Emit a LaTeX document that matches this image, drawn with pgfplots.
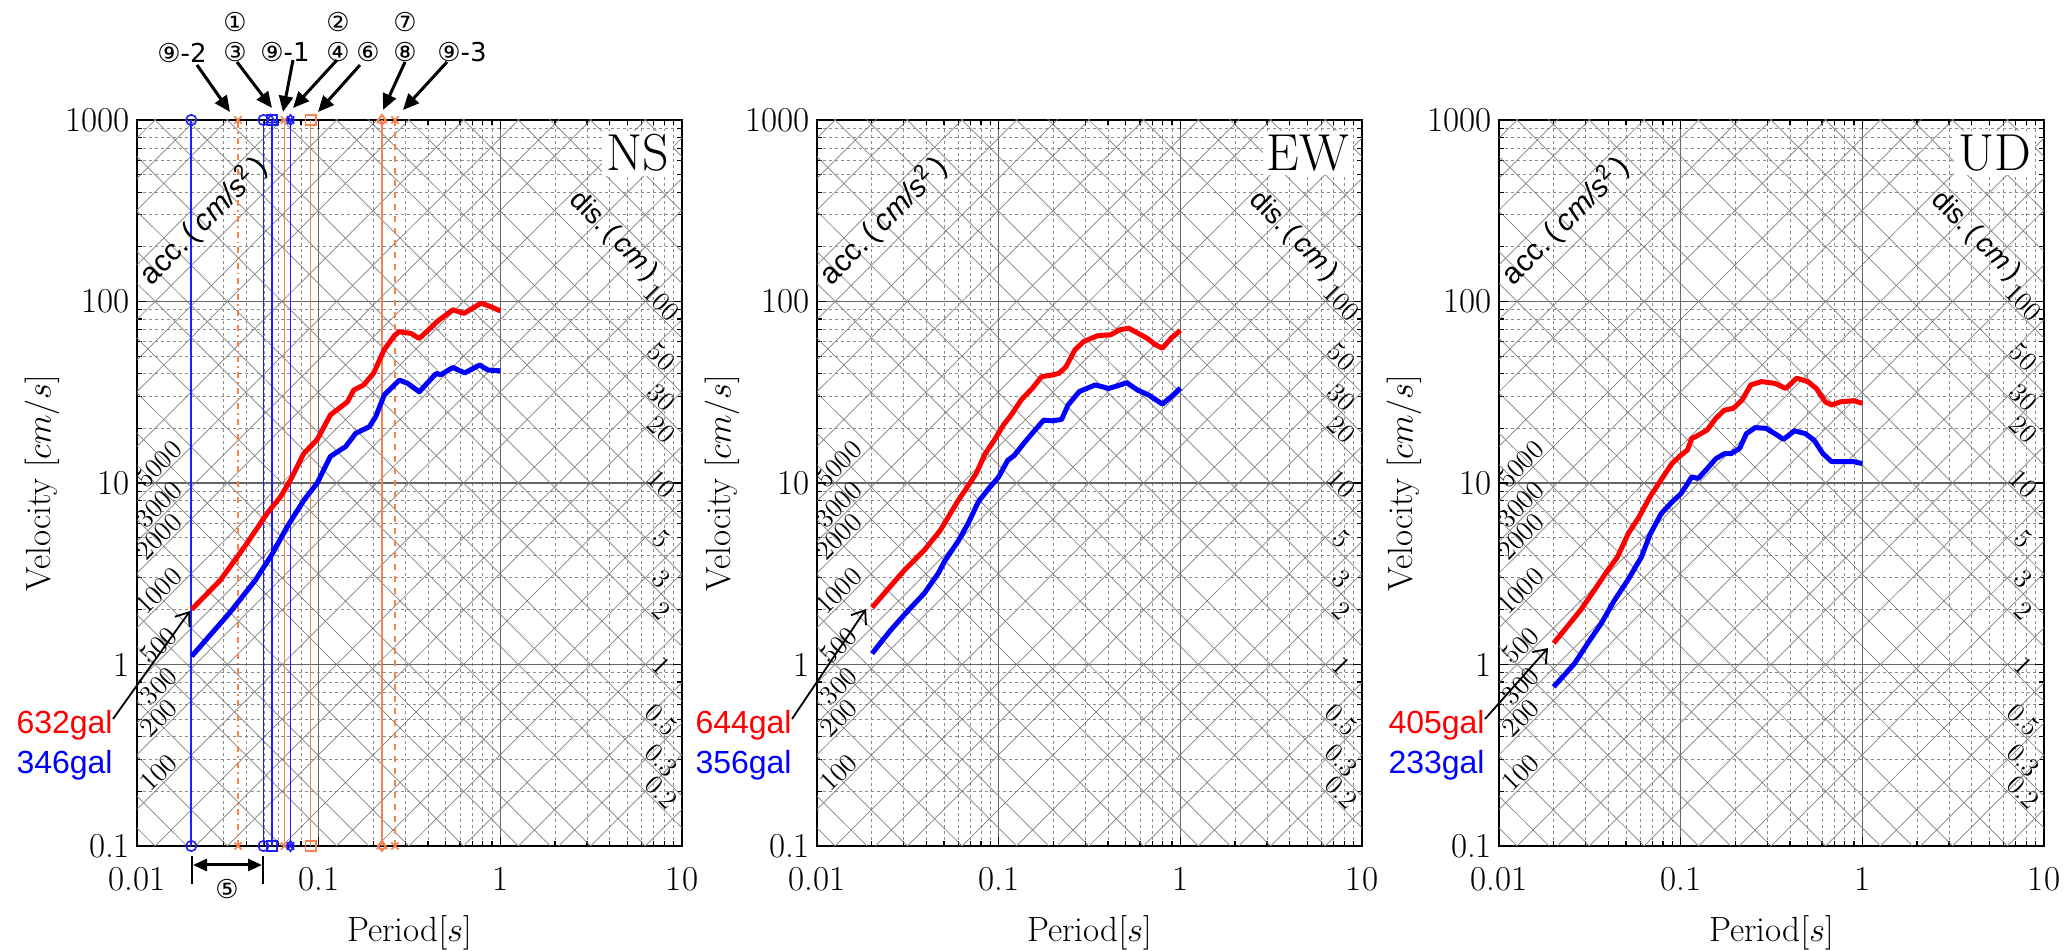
\documentclass[border=0pt]{standalone}
\usepackage{pgfplots}
\pgfplotsset{compat=1.18}
\usepackage{fontspec}
\usetikzlibrary{arrows.meta}
\newfontfamily\arial{Liberation Sans}
\newfontfamily\dejavu{DejaVu Sans}
\definecolor{spred}{RGB}{255,0,0}
\definecolor{spblue}{RGB}{0,0,255}
\definecolor{mkblue}{RGB}{30,30,255}
\definecolor{mkorange}{RGB}{245,130,80}

\pgfplotsset{
  every axis/.append style={
    scale only axis, width=272.5pt, height=363pt,
    xmin=0.01, xmax=10, ymin=0.1, ymax=1000,
    xtick={0.01,0.1,1,10}, xticklabels={0.01,0.1,1,10},
    ytick={0.1,1,10,100,1000}, yticklabels={0.1,1,10,100,1000},
    tick label style={font=\fontsize{17.5}{20}\selectfont},
    x tick label style={yshift=-7pt},
    tick align=inside, major tick length=4.5pt, minor tick length=2.5pt,
    tick style={black, line width=0.6pt},
    axis line style={line width=1pt},
    grid=both,
    major grid style={black!60, line width=0.6pt},
    minor grid style={black!45, line width=0.4pt, dash pattern=on 1.5pt off 1.5pt},
    xlabel={Period$[s]$}, ylabel={Velocity $[cm/s]$},
    label style={font=\fontsize{17.5}{20}\selectfont},
    xlabel style={at={(axis description cs:0.5,-0.1198)}, anchor=center},
    ylabel style={at={(axis description cs:-0.1743,0.5)}, anchor=center},
  },
  diagline/.style={black!50, line width=0.35pt, no markers, forget plot},
  spcurve/.style={line width=2.5pt, line join=round, no markers},
  vmark/.style={line width=0.8pt, mark size=2.6pt, mark options={solid}},
}

% tripartite grid: acceleration (slope +1) and displacement (slope -1) lines
\newcommand{\tripgrid}{%
  \pgfplotsinvokeforeach{0.1,0.2,0.3,0.5,1,2,3,5,10,20,30,50,100,200,300,500,1000,2000,3000,5000,10000,20000,30000,50000,100000,200000,300000,500000}{%
    \addplot[diagline] coordinates {(0.0062832,##1e-3) (62.832,##1e1)};}%
  \pgfplotsinvokeforeach{0.0002,0.0003,0.0005,0.001,0.002,0.003,0.005,0.01,0.02,0.03,0.05,0.1,0.2,0.3,0.5,1,2,3,5,10,20,30,50,100,200,300,500,1000}{%
    \addplot[diagline] coordinates {(0.0062832,##1e3) (62.832,##1e-1)};}%
}
\newcommand{\dlab}{\fontsize{13.5}{14}\selectfont}
\newcommand{\triplabels}{%
  \node[rotate=45,anchor=south,font=\dlab,inner sep=0.5pt] at (axis cs:0.0145,0.2308) {100};
  \node[rotate=45,anchor=south,font=\dlab,inner sep=0.5pt] at (axis cs:0.0145,0.4615) {200};
  \node[rotate=45,anchor=south,font=\dlab,inner sep=0.5pt] at (axis cs:0.0145,0.6923) {300};
  \node[rotate=45,anchor=south,font=\dlab,inner sep=0.5pt] at (axis cs:0.0145,1.1538) {500};
  \node[rotate=45,anchor=south,font=\dlab,inner sep=0.5pt] at (axis cs:0.0145,2.3077) {1000};
  \node[rotate=45,anchor=south,font=\dlab,inner sep=0.5pt] at (axis cs:0.0145,4.6154) {2000};
  \node[rotate=45,anchor=south,font=\dlab,inner sep=0.5pt] at (axis cs:0.0145,6.9231) {3000};
  \node[rotate=45,anchor=south,font=\dlab,inner sep=0.5pt] at (axis cs:0.0145,11.538) {5000};
  \node[rotate=-45,anchor=south,font=\dlab,inner sep=0.5pt] at (axis cs:7,89.76) {100};
  \node[rotate=-45,anchor=south,font=\dlab,inner sep=0.5pt] at (axis cs:7,44.88) {50};
  \node[rotate=-45,anchor=south,font=\dlab,inner sep=0.5pt] at (axis cs:7,26.93) {30};
  \node[rotate=-45,anchor=south,font=\dlab,inner sep=0.5pt] at (axis cs:7,17.95) {20};
  \node[rotate=-45,anchor=south,font=\dlab,inner sep=0.5pt] at (axis cs:7,8.976) {10};
  \node[rotate=-45,anchor=south,font=\dlab,inner sep=0.5pt] at (axis cs:7,4.488) {5};
  \node[rotate=-45,anchor=south,font=\dlab,inner sep=0.5pt] at (axis cs:7,2.693) {3};
  \node[rotate=-45,anchor=south,font=\dlab,inner sep=0.5pt] at (axis cs:7,1.795) {2};
  \node[rotate=-45,anchor=south,font=\dlab,inner sep=0.5pt] at (axis cs:7,0.8976) {1};
  \node[rotate=-45,anchor=south,font=\dlab,inner sep=0.5pt] at (axis cs:7,0.4488) {0.5};
  \node[rotate=-45,anchor=south,font=\dlab,inner sep=0.5pt] at (axis cs:7,0.2693) {0.3};
  \node[rotate=-45,anchor=south,font=\dlab,inner sep=0.5pt] at (axis cs:7,0.1795) {0.2};
  \node[rotate=45,font=\arial\fontsize{15}{17}\selectfont] at (axis cs:0.0232,278) {acc.\,(\,\textit{cm/s}\textsuperscript{2}\,)};
  \node[rotate=-45,font=\arial\fontsize{14}{17}\selectfont] at (axis cs:4.2,228) {dis.\,(\,\textit{cm}\,)};
}
\newcommand{\comp}[1]{%
  \node[anchor=north east, fill=white, inner sep=2pt, font=\fontsize{26}{28}\selectfont]
    at (rel axis cs:0.984,0.986) {#1};}

\begin{document}
\begin{tikzpicture}
\path[use as bounding box] (-68.5pt,-52.5pt) rectangle (964pt,423pt);

% ---------------- NS ----------------
\begin{loglogaxis}[at={(0pt,0pt)}]
\tripgrid
\addplot[vmark, mkblue, mark=o] coordinates {(0.0199,0.1) (0.0199,1000)};
\addplot[vmark, mkorange, dash dot, mark=x] coordinates {(0.036,0.1) (0.036,1000)};
\addplot[vmark, mkblue, mark=o] coordinates {(0.0497,0.1) (0.0497,1000)};
\addplot[vmark, mkblue, mark=square] coordinates {(0.0552,0.1) (0.0552,1000)};
\addplot[vmark, mkblue, only marks, mark=triangle] coordinates {(0.0545,1000)};
\addplot[vmark, mkorange, mark=x] coordinates {(0.0649,0.1) (0.0649,1000)};
\addplot[vmark, mkblue, mark=x] coordinates {(0.070,0.1) (0.070,1000)};
\addplot[vmark, mkblue, only marks, mark=diamond] coordinates {(0.070,0.1) (0.070,1000)};
\addplot[vmark, mkorange, mark=square] coordinates {(0.0903,0.1) (0.0903,1000)};
\addplot[vmark, mkorange, mark=triangle] coordinates {(0.223,0.1) (0.223,1000)};
\addplot[vmark, mkorange, only marks, mark=diamond] coordinates {(0.223,0.1) (0.223,1000)};
\addplot[vmark, mkorange, dashed, mark=x] coordinates {(0.263,0.1) (0.263,1000)};
\addplot[spcurve, spred] coordinates {
 (0.02,2.01) (0.0288,2.92) (0.04,4.6) (0.052,6.8) (0.0617,8.4) (0.07,10.4)
 (0.083,14.6) (0.098,17.3) (0.116,23.7) (0.144,28) (0.156,32.5) (0.177,34.7)
 (0.201,40.4) (0.229,54) (0.26,64.5) (0.277,68.2) (0.322,66.7) (0.358,62.5)
 (0.416,72) (0.452,78) (0.548,90) (0.63,86) (0.785,98) (0.9,93) (1.0,88.7)};
\addplot[spcurve, spblue] coordinates {
 (0.02,1.11) (0.0327,1.95) (0.0449,2.92) (0.055,4.0) (0.0671,5.74) (0.083,8.05)
 (0.098,9.96) (0.116,14.0) (0.141,15.9) (0.16,18.8) (0.19,20.4) (0.206,23.2)
 (0.23,30.6) (0.278,36.9) (0.309,35.4) (0.358,31.8) (0.443,40.1) (0.47,39.5)
 (0.548,43.3) (0.636,40.4) (0.769,44.7) (0.855,41.9) (1.0,41.5)};
\triplabels
\comp{NS}
\end{loglogaxis}

% ---------------- EW ----------------
\begin{loglogaxis}[at={(340pt,0pt)}]
\tripgrid
\addplot[spcurve, spred] coordinates {
 (0.0201,2.06) (0.0248,2.63) (0.0303,3.31) (0.039,4.27) (0.0478,5.5) (0.06,8.05)
 (0.0672,9.5) (0.0753,11.3) (0.0843,14.5) (0.0945,17.2) (0.106,20.8) (0.119,24.2)
 (0.133,28.7) (0.153,33.2) (0.172,38.5) (0.198,39.4) (0.215,40.2) (0.235,43.8)
 (0.263,54.2) (0.294,60.2) (0.349,64.7) (0.414,65.6) (0.464,69.8) (0.52,71.3)
 (0.582,67) (0.653,62.9) (0.731,57.7) (0.796,55.3) (0.892,62.9) (1.0,69.3)};
\addplot[spcurve, spblue] coordinates {
 (0.0201,1.15) (0.0255,1.55) (0.032,2.0) (0.039,2.47) (0.0465,3.18) (0.0506,3.73)
 (0.06,4.8) (0.068,6.0) (0.0774,7.9) (0.088,9.3) (0.1,10.8) (0.112,13.3)
 (0.122,14.2) (0.14,16.9) (0.158,19.5) (0.177,22.2) (0.198,22) (0.222,22.4)
 (0.241,26.9) (0.278,31.9) (0.34,34.7) (0.403,33.2) (0.451,34.3) (0.506,35.7)
 (0.582,32.5) (0.671,30.5) (0.796,27.2) (0.892,29.9) (1.0,33.3)};
\triplabels
\comp{EW}
\end{loglogaxis}

% ---------------- UD ----------------
\begin{loglogaxis}[at={(681pt,0pt)}]
\tripgrid
\addplot[spcurve, spred] coordinates {
 (0.02,1.31) (0.0282,2.0) (0.0335,2.57) (0.0397,3.31) (0.0448,3.9) (0.0514,5.25)
 (0.059,6.5) (0.0678,8.4) (0.078,10.4) (0.0895,12.8) (0.1,14.2) (0.109,15.2)
 (0.115,17.6) (0.121,18.0) (0.14,19.6) (0.156,22.7) (0.174,25.2) (0.195,25.8)
 (0.218,28.7) (0.243,34.7) (0.279,36.2) (0.33,35.4) (0.379,33.2) (0.435,37.8)
 (0.5,36.2) (0.558,33.2) (0.624,28) (0.678,26.9) (0.758,28) (0.895,28.4) (1.0,27.5)};
\addplot[spcurve, spblue] coordinates {
 (0.02,0.753) (0.026,1.01) (0.0308,1.31) (0.0365,1.68) (0.0432,2.26) (0.0512,2.92)
 (0.0607,3.9) (0.0678,5.2) (0.078,6.77) (0.0895,7.85) (0.1,8.7) (0.109,9.9)
 (0.115,10.8) (0.125,10.6) (0.14,12) (0.156,13.6) (0.174,14.5) (0.189,14.5)
 (0.211,15.5) (0.23,18.7) (0.257,20.2) (0.295,20.0) (0.33,18.7) (0.368,17.4)
 (0.423,19.4) (0.486,18.7) (0.543,17.2) (0.607,14.5) (0.678,13.1) (0.758,13.1)
 (0.895,13.1) (1.0,12.8)};
\triplabels
\comp{UD}
\end{loglogaxis}

% ---------------- annotations, in image pixels ----------------
\begin{scope}[shift={(-68.5pt,423pt)}, x=0.5pt, y=-0.5pt]
 \begin{scope}[font=\dejavu\fontsize{13}{15}\selectfont]
  \node at (182,53) {⑨-2};
  \node at (235,22) {①};
  \node at (235,52) {③};
  \node at (285,52) {⑨-1};
  \node at (338,22) {②};
  \node at (338,52) {④};
  \node at (368,52) {⑥};
  \node at (405,22) {⑦};
  \node at (405,52) {⑧};
  \node at (462,52) {⑨-3};
  \node at (227,889) {⑤};
 \end{scope}
 \begin{scope}[line width=1.5pt, -{Triangle[length=8pt,width=7pt]}]
  \draw (197,65) -- (230,112);
  \draw (237,62) -- (272,108);
  \draw (293,60) -- (283,112);
  \draw (337,60) -- (293,108);
  \draw (360,65) -- (318,112);
  \draw (405,62) -- (383,110);
  \draw (447,62) -- (403,110);
 \end{scope}
 \draw[line width=0.6pt] (192,856) -- (192,884) (263,856) -- (263,884);
 \draw[line width=1.5pt, {Triangle[length=7pt,width=6pt]}-{Triangle[length=7pt,width=6pt]}] (193,865) -- (262,865);

 \begin{scope}[every node/.style={anchor=east, inner sep=0pt, font=\arial\fontsize{16}{18}\selectfont}]
  \node[text=spred] at (113,725) {632gal};
  \node[text=spblue] at (113,765) {346gal};
  \node[text=spred] at (792,725) {644gal};
  \node[text=spblue] at (792,765) {356gal};
  \node[text=spred] at (1485,725) {405gal};
  \node[text=spblue] at (1485,765) {233gal};
 \end{scope}
 \begin{scope}[line width=0.9pt, -{Straight Barb[length=6pt,width=9pt]}]
  \draw (113,719) -- (190,611);
  \draw (792,719) -- (866,609);
  \draw (1485,719) -- (1548,648);
 \end{scope}
\end{scope}
\end{tikzpicture}
\end{document}
